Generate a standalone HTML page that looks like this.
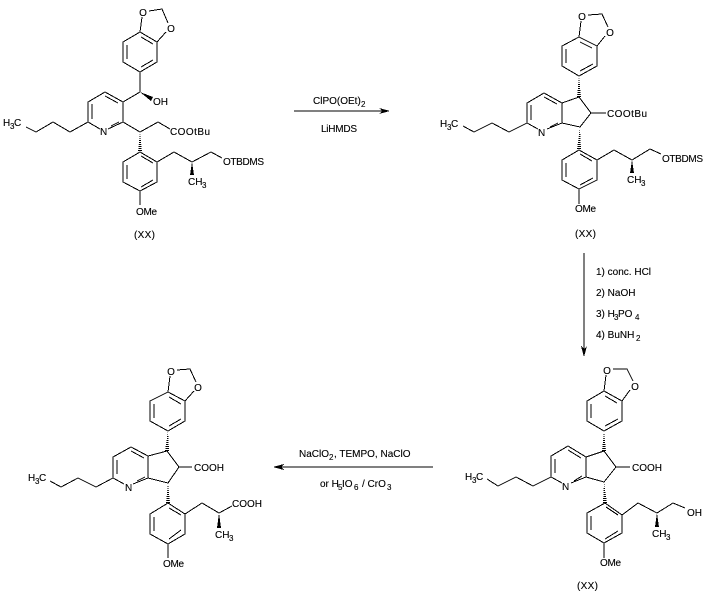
<!DOCTYPE html>
<html><head><meta charset="utf-8">
<style>
html,body{margin:0;padding:0;background:#fff;width:710px;height:591px;overflow:hidden}
svg{display:block}
text{font-family:"Liberation Sans",Arial,sans-serif;font-size:10px;fill:#000;stroke:#000;stroke-width:.12}
.s{font-size:8px}
path{fill:none;stroke:#000;stroke-width:1;shape-rendering:crispEdges}
polygon{shape-rendering:crispEdges}
</style></head><body>
<svg width="710" height="591" viewBox="0 0 710 591" xmlns="http://www.w3.org/2000/svg">
<defs><pattern id="h" patternUnits="userSpaceOnUse" width="8" height="2"><rect width="8" height="1" fill="#000"/></pattern></defs>

<!-- Structure 1 -->
<path d="M140 32L142 17M149 11L162 9L168 23M166 32L157 42M140 32L157 42L157 62L140 72L123 62L123 42L140 32M127 45L127 59M141 37L153 44M153 60L141 67
M140 72L140 92L123 102L105 92L88 102L88 122L100 129M108 129L123 122L123 102M105 96L118 103M92 104L92 119M111 126L119 122
M88 122L70 132L53 122L36 132L26 127M123 122L140 132L158 122L170 129
M140 152L157 162L157 182L140 191L123 182L123 162L140 152M127 165L127 179M141 156L153 163M153 180L141 187
M157 162L174 152L192 162L211 152L222 158M140 191L140 205"/>
<polygon points="140,92 153,97 151,101" fill="#000"/>
<polygon points="140,132 138,152 142,152" fill="url(#h)"/>
<polygon points="192,162 190,175 194,175" fill="#000"/>
<text x="143" y="16" text-anchor="middle">O</text><text x="171" y="32" text-anchor="middle">O</text>
<text x="153" y="105">OH</text><text x="100" y="135">N</text>
<text x="3" y="126">H</text><text x="10" y="129" class="s">3</text><text x="14" y="126">C</text>
<text x="170" y="135" textLength="40">COOtBu</text>
<text x="223" y="165" textLength="41">OTBDMS</text>
<text x="188" y="185">CH</text><text x="202" y="188" class="s">3</text>
<text x="136" y="215" textLength="21">OMe</text>
<text x="134" y="238" textLength="21">(XX)</text>

<!-- Arrow 1 -->
<path d="M294 111L386 111"/><polygon points="379,108 390,111 379,114 382,111" fill="#000"/>
<text x="313" y="104">ClPO(OEt)</text><text x="361" y="107" class="s">2</text>
<text x="321" y="132" textLength="36">LiHMDS</text>

<!-- Structure 2 -->
<path d="M579 37L581 21M588 15L602 14L608 27M605 36L597 46M579 37L597 46L597 66L579 76L562 66L562 46L579 37M566 49L566 63M580 42L592 48M593 64L580 71
M579 97L562 103L544 93L527 103L527 123L538 129M547 129L562 123L562 103M544 97L557 104M531 105L531 120M550 127L558 123
M562 123L580 127L591 113L579 97M527 123L509 132L492 123L474 132L463 126M591 113L606 113
M579 150L597 160L597 180L579 189L562 180L562 160L579 150M566 163L566 177M580 154L592 161M593 178L580 185
M597 160L614 150L632 160L650 149L661 154M579 189L579 204"/>
<polygon points="579,76 577,97 581,97" fill="url(#h)"/>
<polygon points="580,127 577,150 581,150" fill="url(#h)"/>
<polygon points="632,160 630,173 634,173" fill="#000"/>
<text x="582" y="20" text-anchor="middle">O</text><text x="610" y="36" text-anchor="middle">O</text>
<text x="538" y="136">N</text>
<text x="440" y="127">H</text><text x="447" y="130" class="s">3</text><text x="451" y="127">C</text>
<text x="607" y="117" textLength="40">COOtBu</text>
<text x="662" y="162" textLength="41">OTBDMS</text>
<text x="627" y="183">CH</text><text x="641" y="186" class="s">3</text>
<text x="575" y="212" textLength="21">OMe</text>
<text x="575" y="237" textLength="21">(XX)</text>

<!-- Arrow 2 -->
<path d="M584 253L584 353"/><polygon points="581,346 584,357 587,346 584,349" fill="#000"/>
<text x="596" y="275">1) conc. HCl</text>
<text x="596" y="296">2) NaOH</text>
<text x="596" y="317">3) H</text><text x="614" y="320" class="s">3</text><text x="618" y="317">PO</text><text x="635" y="320" class="s">4</text>
<text x="596" y="338">4) BuNH</text><text x="636" y="341" class="s">2</text>

<!-- Structure 3 -->
<path d="M604 391L606 375M613 369L627 369L633 381M630 390L622 401M604 391L622 401L622 421L604 431L587 421L587 401L604 391M591 404L591 418M605 396L617 403M618 419L605 426
M604 451L586 457L568 446L551 456L551 477L562 483M571 483L586 477L586 457M568 450L581 458M555 459L555 473M574 481L582 476
M586 477L604 482L616 467L604 451M551 477L533 486L516 477L498 486L487 479M616 467L630 467
M605 503L622 515L622 533L604 543L587 533L587 513L605 503M591 516L591 530M606 507L618 515M618 531L605 539
M622 515L638 503L657 513L673 503L685 508M604 543L604 558"/>
<polygon points="604,431 602,451 606,451" fill="url(#h)"/>
<polygon points="604,482 603,503 607,503" fill="url(#h)"/>
<polygon points="657,513 655,527 659,527" fill="#000"/>
<text x="607" y="374" text-anchor="middle">O</text><text x="635" y="390" text-anchor="middle">O</text>
<text x="562" y="490">N</text>
<text x="465" y="480">H</text><text x="472" y="483" class="s">3</text><text x="476" y="480">C</text>
<text x="632" y="471" textLength="30">COOH</text>
<text x="687" y="516">OH</text>
<text x="652" y="537">CH</text><text x="666" y="540" class="s">3</text>
<text x="600" y="566" textLength="21">OMe</text>
<text x="577" y="589" textLength="21">(XX)</text>

<!-- Arrow 3 -->
<path d="M277 467L433 467"/><polygon points="284,464 273,467 284,470 281,467" fill="#000"/>
<text x="299" y="457">NaClO</text><text x="329" y="460" class="s">2</text><text x="334" y="457">, TEMPO, NaClO</text>
<text x="320" y="487">or H</text><text x="338" y="490" class="s">5</text><text x="342" y="487">IO</text><text x="354" y="490" class="s">6</text><text x="362" y="487">/ CrO</text><text x="387" y="490" class="s">3</text>

<!-- Structure 4 -->
<path d="M168 392L170 376M177 370L190 369L196 382M194 391L185 401M168 392L185 401L185 421L168 431L150 421L150 401L168 392M154 404L154 418M169 397L181 404M181 419L169 426
M167 451L148 456L131 447L113 457L113 478L124 484M133 484L148 478L148 456M131 451L144 458M117 460L117 474M137 481L145 477
M148 478L168 483L179 467L167 451M113 478L96 487L78 478L61 487L50 481M179 467L192 467
M168 503L185 514L185 534L168 544L150 534L150 514L168 503M154 517L154 531M169 508L181 515M181 530L169 539
M185 514L202 503L219 513L232 506M168 544L168 558"/>
<polygon points="168,431 165,451 169,451" fill="url(#h)"/>
<polygon points="168,483 166,503 170,503" fill="url(#h)"/>
<polygon points="219,513 217,528 221,528" fill="#000"/>
<text x="171" y="375" text-anchor="middle">O</text><text x="198" y="391" text-anchor="middle">O</text>
<text x="125" y="491">N</text>
<text x="28" y="481">H</text><text x="35" y="484" class="s">3</text><text x="39" y="481">C</text>
<text x="194" y="471" textLength="30">COOH</text>
<text x="232" y="507" textLength="30">COOH</text>
<text x="215" y="538">CH</text><text x="229" y="541" class="s">3</text>
<text x="163" y="567" textLength="21">OMe</text>
</svg>
</body></html>
